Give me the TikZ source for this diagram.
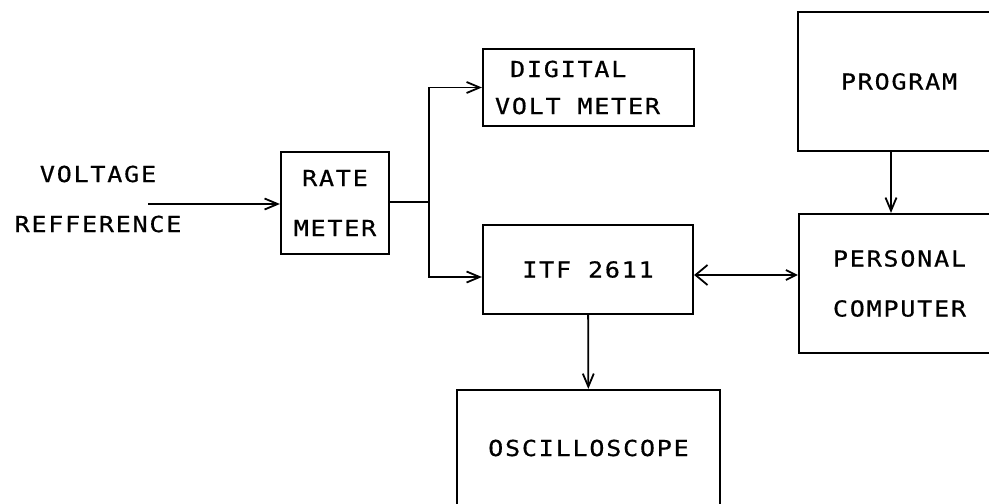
\documentclass[tikz,border=0pt]{standalone}
\usepackage{fontspec}
\usetikzlibrary{arrows.meta}
\newfontfamily\plotter[FakeStretch=1.14, LetterSpace=8, FakeBold=0.6]{DejaVu Sans Mono}

\begin{document}
\begin{tikzpicture}[x=0.5pt, y=-0.5pt,
		blk/.style={draw, line width=1.1pt, inner sep=0pt, align=center, font=\plotter\fontsize{11}{25}\selectfont},
		lbl/.style={inner sep=0pt, align=center, font=\plotter\fontsize{11}{25}\selectfont},
		arr/.style={line width=0.9pt, -{Straight Barb[length=6.5pt, width=5.5pt]}}]
		\useasboundingbox (0,0) rectangle (989,503);
		\clip (0,0) rectangle (989,503);

		% Nodes
		\node[lbl] (vref) at (98,199) {VOLTAGE\\REFFERENCE};
		\node[blk, minimum width=54pt, minimum height=51pt] (rate) at (335,203) {RATE\\METER};
		\node[blk, inner xsep=6pt, text width=93.5pt, minimum height=38.5pt, align=left, font=\plotter\fontsize{11}{18.5}\selectfont] (dvm) at (588.5,87.5) {\phantom{V}DIGITAL\\VOLT\hspace{8.4pt}METER};
		\node[blk, minimum width=105pt, minimum height=44.5pt] (itf) at (588,269.5) {ITF 2611};
		\node[blk, minimum width=131.5pt, minimum height=58pt] (osc) at (588.5,448) {OSCILLOSCOPE};
		\node[blk, minimum width=101pt, minimum height=69.5pt] (prog) at (899,81.5) {PROGRAM};
		\node[blk, minimum width=100.5pt, minimum height=69.5pt] (pc) at (899.5,283.5) {PERSONAL\\COMPUTER};
		\coordinate (in) at (148,204);
		\coordinate (br) at (429,202);

		% Edges
		\draw[arr] (in) -- (in -| rate.west);
		\draw[line width=0.9pt] (rate.east |- br) -- (br);
		\draw[arr] (br) |- (dvm.west);
		\draw[arr] (br) |- ([yshift=-3.75pt]itf.west);
		\draw[line width=0.9pt, {Straight Barb[length=6pt, width=10pt]}-{Straight Barb[length=5pt, width=5pt]}] ([yshift=-2.75pt]itf.east) -- ([yshift=-2.75pt]itf.east -| pc.west);
		\draw[arr] ([xshift=-4pt]prog.south) -- ([xshift=-4pt]prog.south |- pc.north);
		\draw[arr] (itf) -- (osc);
	\end{tikzpicture}
\end{document}
